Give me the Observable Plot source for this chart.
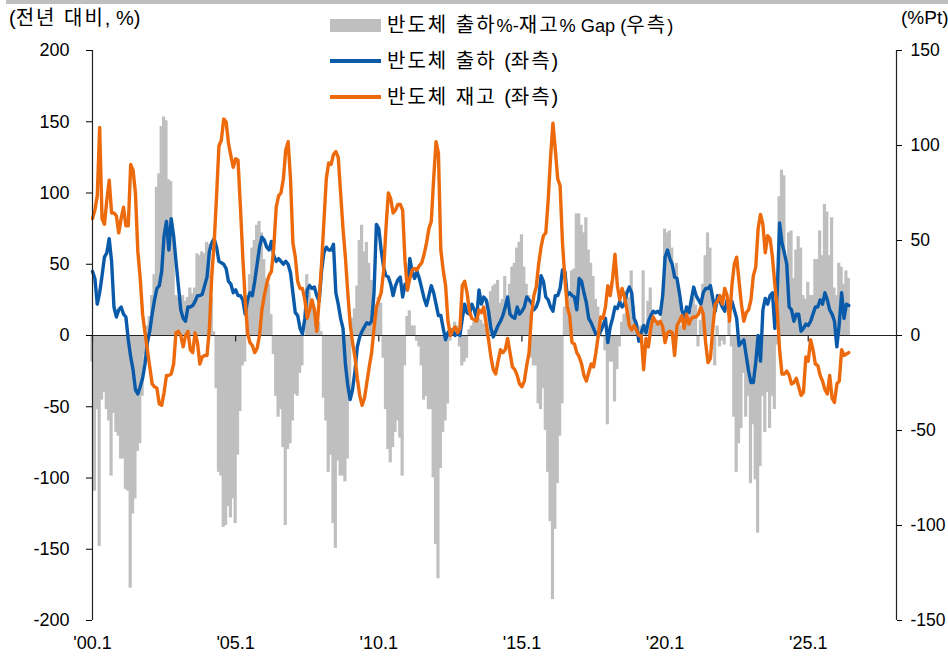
<!DOCTYPE html>
<html><head><meta charset="utf-8">
<script src="https://cdn.jsdelivr.net/npm/d3@7"></script>
<script src="https://cdn.jsdelivr.net/npm/@observablehq/plot@0.6"></script>
<style>
  html,body{margin:0;padding:0;background:#fff;}
  #wrap{position:relative;width:948px;height:659px;overflow:hidden;font-family:"Liberation Sans","Noto Sans CJK KR",sans-serif;color:#000;}
  #chart{position:absolute;left:0;top:0;}
  .topbar{position:absolute;left:6px;right:0;top:0;height:4px;background:#bfbfbf;}
  .lbl{position:absolute;font-size:20px;line-height:24px;white-space:nowrap;}
  .k{letter-spacing:2px;}
  .n{font-size:18.2px;}
  .sw{position:absolute;}
</style></head>
<body>
<div id="wrap">
  <div id="chart"></div>
  <div class="topbar"></div>
  <div class="lbl" style="left:9px;top:6px;">(<span class="k">전년 대비</span>, %)</div>
  <div class="lbl" style="left:901px;top:6px;font-size:19px;">(%Pt)</div>
  <div class="sw" style="left:330px;top:19px;width:51px;height:13px;background:#bfbfbf;"></div>
  <div class="lbl" style="left:387px;top:13px;"><span class="k">반도체 출하</span><span class="n">%-</span><span class="k">재고</span><span class="n">% Gap (</span><span class="k">우측</span><span class="n">)</span></div>
  <div class="sw" style="left:330px;top:59px;width:51px;height:4px;background:#0a5aaa;"></div>
  <div class="lbl" style="left:387px;top:49px;"><span class="k">반도체 출하 </span>(<span class="k">좌측</span>)</div>
  <div class="sw" style="left:330px;top:95px;width:51px;height:4px;background:#ec6a0c;"></div>
  <div class="lbl" style="left:387px;top:85px;"><span class="k">반도체 재고 </span>(<span class="k">좌측</span>)</div>
</div>
<script>
// Monthly series starting 2000.1 (YoY %, left axis)
const shipments = [
  45, 40, 22, 30, 42, 55, 58, 68, 52, 20, 13, 18,
  20, 15, 13, -3, -15, -24, -38, -41, -36, -30, -20, -5,
  3, 15, 25, 33, 35, 45, 70, 80, 60, 82, 70, 52,
  35, 18, 12, 10, 20, 20, 21, 24, 28, 28, 29, 35,
  41, 59, 65, 68, 62, 52, 51, 50, 47, 38, 36, 30,
  32, 28, 28, 25, 15, 25, 30, 28, 38, 50, 62, 69,
  67, 62, 60, 66, 56, 52, 54, 52, 50, 52, 50, 44,
  30, 16, 14, 5, 1, 12, 32, 35, 33, 34, 28, 24,
  45, 58, 62, 60, 60, 64, 30, 22, 12, 5, -20, -35,
  -45, -38, -25, -8, -1, 3, 6, 9, 8, 10, 30, 78,
  75, 60, 48, 42, 41, 36, 28, 35, 39, 41, 27, 36,
  32, 54, 45, 40, 45, 40, 33, 26, 21, 28, 35, 30,
  22, 14, 14, 5, -3, 2, 4, 3, 0, 2, 0, 12,
  22, 16, 15, 22, 18, 12, 32, 22, 27, 25, 17, 5,
  -1, 3, 7, 10, 14, 20, 27, 15, 13, 12, 20, 15,
  17, 20, 27, 25, 23, 18, 20, 25, 42, 38, 27, 25,
  20, 17, 28, 28, 33, 46, 45, 28, 30, 28, 27, 18,
  40, 38, 30, 23, 12, 9, 5, 1, 0, 3, 7, 12,
  -5, 6, 12, 20, 19, 24, 20, 22, 30, 34, 30, 12,
  8, -4, 2, 7, 2, 10, 14, 17, 16, 17, 15, 28,
  55, 60, 54, 50, 41, 40, 30, 18, 12, 20, 16, 25,
  34, 28, 25, 22, 30, 33, 33, 35, 26, 17, 28, 24,
  20, 17, 25, 22, 24, 18, 12, -7, -5, -3, -14, -25,
  -33, -33, -19, 0, -18, 18, 26, 22, 28, 30, 5, 30,
  79, 65, 58, 50, 20, 18, 10, 15, 15, 3, 5, 8,
  7, 10, 15, 20, 20, 25, 22, 30, 25, 18, 15, 10,
  -8, 8, 30, 12, 22, 21
];
const inventory = [
  82, 88, 98, 146, 82, 78, 95, 109, 86, 86, 84, 72,
  82, 90, 77, 77, 120, 116, 100, 59, 40, 15, 2, -10,
  -22, -34, -36, -37, -48, -49, -40, -28, -28, -27, -20, 2,
  3, 0, -8, 0, 3, -10, -12, 2, -5, -20, -15, -14,
  -14, 5, 42, 65, 98, 133, 137, 152, 150, 135, 126, 118,
  124, 123, 90, 55, 25, 2, -5, -7, -12, -9, 0, 18,
  28, 36, 42, 45, 62, 90, 98, 100, 110, 130, 136, 110,
  65, 55, 38, 33, 33, 25, 12, 18, 25, 18, 3, 25,
  50, 80, 110, 121, 120, 127, 129, 125, 100, 75, 55, 30,
  8, -5, -15, -30, -42, -49, -44, -33, -22, -12, 5, 20,
  25, 30, 45, 75, 100, 96, 86, 88, 92, 92, 88, 52,
  32, 40, 46, 47, 46, 49, 51, 57, 65, 75, 80, 110,
  136, 128, 60, 46, 35, 10, 0, 4, 6, 2, 5, 35,
  38, 30, 17, 12, 11, 10, 18, 16, 20, 8, -3, -15,
  -24, -27, -18, -10, -12, -10, -2, -12, -22, -24, -28, -34,
  -36, -32, -21, -12, 15, 28, 34, 50, 62, 70, 72, 95,
  125, 149, 130, 110, 105, 65, 40, 20, 14, -5, -6, -12,
  -15, -20, -28, -32, -26, -20, -22, -12, 0, 13, 12, 20,
  35, 28, 40, 57, 35, 25, 33, 27, 18, 7, 4, 7,
  4, 0, 0, -24, -2, -8, 5, 13, 10, 8, 10, 6,
  -5, 2, 3, 2, -14, 7, 10, 14, 5, 15, 8, 12,
  13, 13, 15, 20, 15, -5, -19, -16, 5, 22, 24, 28,
  22, 33, 28, 10, 35, 50, 55, 38, 22, 10, 16, 18,
  25, 42, 48, 75, 85, 78, 58, 70, 68, 55, 36, 18,
  -10, -27, -27, -25, -28, -34, -33, -30, -36, -42, -40, -15,
  -18, -3, -10, -20, -21, -28, -32, -38, -41, -28, -44, -47,
  -34, -32, -10, -14, -13, -12
];
// Gap in %Pt (right axis)
const gapPt = [
  -14, -82, -39, -111, -34, -30, -39, -45, -74, -41, -51, -53,
  -65, -65, -81, -82, -133, -94, -86, -61, -57, -32, -10, 5,
  10, 21, 32, 78, 85, 110, 115, 113, 82, 81, 50, 21,
  20, 19, 21, 18, 20, 25, 22, 25, 43, 42, 44, 43,
  49, 48, 20, 2, -28, -72, -74, -101, -100, -90, -96, -86,
  -99, -63, -40, -16, -14, 21, 32, 46, 50, 58, 60, 54,
  40, 30, 27, 11, -10, -32, -43, -39, -59, -100, -60, -57,
  -45, -31, -32, -20, -16, 0, 32, 27, 19, 15, 10, 7,
  2, -33, -45, -72, -63, -99, -112, -66, -74, -74, -77, -65,
  -30, 9, 14, 26, 50, 58, 44, 49, 38, 29, 19, 11,
  20, 17, -12, -39, -60, -67, -59, -51, -45, -54, -74, -16,
  10, 13, 5, 5, -3, -6, -16, -34, -32, -39, -39, -75,
  -110, -128, -70, -51, -45, -36, -3, 3, 7, 5, -6, -16,
  -14, -12, 3, 5, 7, 7, 9, 8, 6, 3, 18, 23,
  26, 27, 29, 17, 19, 31, 20, 27, 36, 38, 46, 49,
  53, 36, 27, 21, -12, -16, -16, -36, -39, -28, -50, -72,
  -98, -139, -102, -78, -53, -36, 15, 19, 20, 34, 35, 64,
  64, 58, 54, 62, 45, 38, 31, 19, 15, 7, -1, -8,
  -47, -14, -14, -35, -18, -6, 7, 11, 12, 20, 34, 15,
  8, -3, 5, 34, 6, 18, 25, 12, 6, 8, 5, 15,
  56, 54, 55, 46, 34, 38, 19, 5, 8, 7, 10, 13,
  20, 16, -6, 8, 27, 42, 54, 46, 20, -16, 5, -6,
  -3, -5, 0, 8, -6, -43, -72, -57, -49, -20, -43, -32,
  -78, -47, -76, -104, -69, -32, -51, -30, -49, -32, -39, -5,
  73, 87, 84, 38, 54, 55, 30, 45, 52, 46, 21, 19,
  28, 21, 21, 40, 40, 55, 42, 69, 65, 42, 62, 25,
  21, 38, 36, 27, 34, 30
];
const xTickMonths = [0, 60, 120, 180, 240, 300];
const xTickLabels = ["'00.1", "'05.1", "'10.1", "'15.1", "'20.1", "'25.1"];
const leftTicks = [-200, -150, -100, -50, 0, 50, 100, 150, 200];
const rightTicks = [-150, -100, -50, 0, 50, 100, 150];

const BLUE = "#0a5aaa", ORANGE = "#ec6a0c", GRAY = "#bfbfbf";
const monthsSpan = 337;
const R2L = 200 / 150; // right-axis units -> left-axis units

const rows = shipments.map((v, i) => ({m: i, ship: v, inv: inventory[i], gap: gapPt[i]}));
const axisFont = "'Liberation Sans', Arial, sans-serif";

const chart = Plot.plot({
  width: 948, height: 659,
  marginLeft: 92, marginRight: 52, marginTop: 50, marginBottom: 39,
  x: {domain: [0, monthsSpan], axis: null},
  y: {domain: [-200, 200], axis: null},
  style: {fontFamily: axisFont, background: "transparent", color: "#000", overflow: "visible"},
  marks: [
    Plot.rectY(rows, {x1: d => d.m - 0.5, x2: d => d.m + 0.5, y1: 0, y2: d => d.gap * R2L,
                      fill: GRAY, insetLeft: -0.4, insetRight: -0.4}),
    Plot.ruleY([0], {stroke: "#222", strokeWidth: 1.2}),
    Plot.ruleX(xTickMonths, {y1: 0, y2: -4.5, stroke: "#222", strokeWidth: 1.2}),
    Plot.line(rows, {x: "m", y: "ship", stroke: BLUE, strokeWidth: 3.4, strokeLinejoin: "round"}),
    Plot.line(rows, {x: "m", y: "inv", stroke: ORANGE, strokeWidth: 3.4, strokeLinejoin: "round"}),
    Plot.ruleX([0], {y1: -200, y2: 200, stroke: "#222", strokeWidth: 1.2}),
    Plot.ruleX([monthsSpan], {y1: -200, y2: 200, stroke: "#222", strokeWidth: 1.2}),
    Plot.axisY({anchor: "left", label: null, ticks: leftTicks, tickSize: 6, tickPadding: 17, fontSize: 18, tickFormat: d => String(d)}),
    Plot.axisY({anchor: "right", label: null, ticks: rightTicks.map(t => t * R2L), tickSize: 5, tickPadding: 9, fontSize: 17.5,
                tickFormat: d => String(Math.round(d / R2L))}),
    Plot.axisX({anchor: "bottom", label: null, ticks: xTickMonths, tickSize: 0, tickPadding: 16, fontSize: 18,
                tickFormat: d => xTickLabels[xTickMonths.indexOf(d)]})
  ]
});
document.getElementById("chart").appendChild(chart);
</script>
</body></html>
